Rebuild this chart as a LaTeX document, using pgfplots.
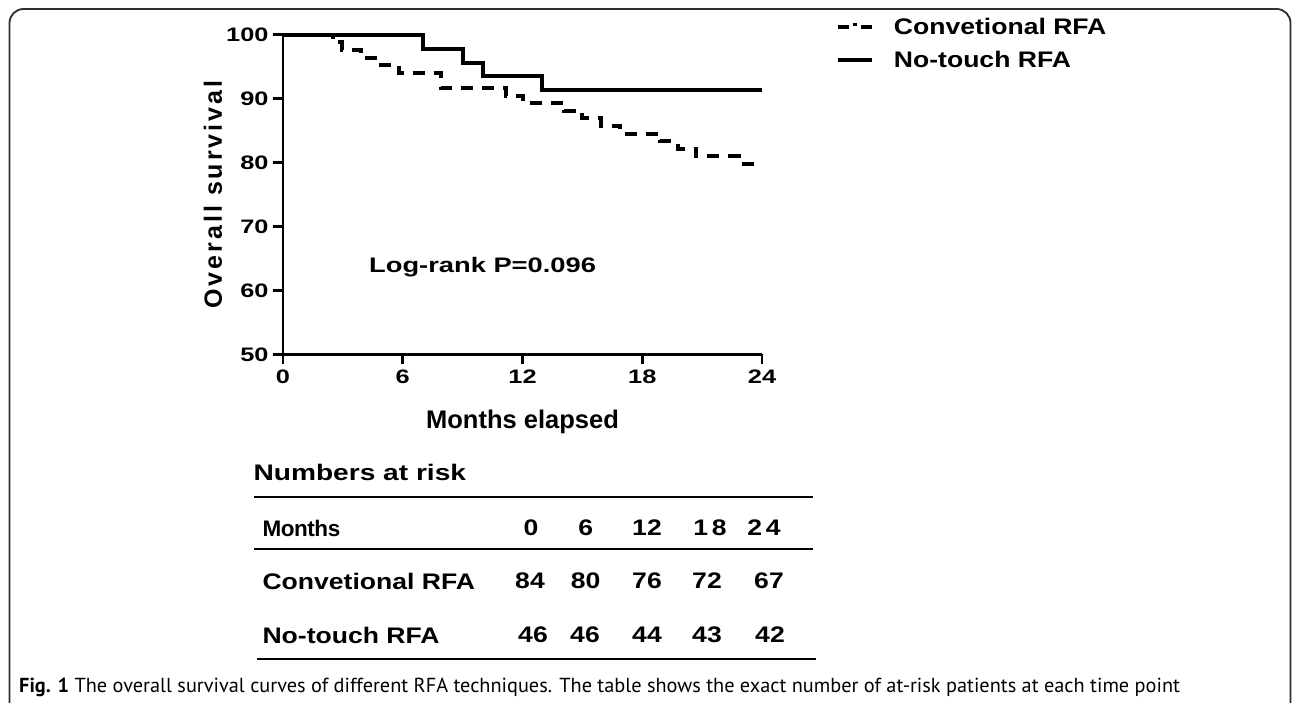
\documentclass[border=0pt]{standalone}
\usepackage{fontspec}
\usepackage{pgfplots}
\pgfplotsset{compat=1.18}
\setmainfont{Liberation Sans}
\newfontfamily\tickf[FakeStretch=1.3]{Liberation Sans}
\newfontfamily\tabf[FakeStretch=1.18]{Liberation Sans}
\newfontfamily\headf[FakeStretch=1.25]{Liberation Sans}
\newfontfamily\monf[FakeStretch=1.0,LetterSpace=-2]{Liberation Sans}
\newfontfamily\labf{Liberation Sans}
\newfontfamily\spacedf[LetterSpace=12]{Liberation Sans}
\newfontfamily\capf{PT Sans}
\definecolor{framec}{HTML}{2E2E2E}

\begin{document}
\begin{tikzpicture}[x=1pt,y=1pt]
\useasboundingbox (0,0) rectangle (1292,702);
% figure frame
\draw[framec, line width=1.8pt, rounded corners=14pt] (9.5,-20) -- (9.5,693) -- (1290.5,693) -- (1290.5,-20);

\begin{axis}[
  at={(283pt,347.7pt)}, anchor=south west,
  scale only axis, width=479pt, height=319.6pt,
  xmin=0, xmax=24, ymin=50, ymax=100,
  xtick={0,6,12,18,24}, ytick={50,60,70,80,90,100},
  axis lines=left, axis line style={-, line width=2.8pt, black},
  tick align=outside, major tick length=10pt,
  tick style={line width=2.8pt, black},
  /pgf/number format/assume math mode=true,
  ticklabel style={font=\tickf\bfseries\fontsize{19.5}{20}\selectfont},
  yticklabel style={xshift=-1pt},
  xticklabel style={yshift=-2pt},
  clip=false,
  legend style={draw=none, fill=none, at={(rel axis cs:1.154,0.9725)}, anchor=west,
    font=\tabf\bfseries\fontsize{22.5}{24}\selectfont, row sep=11pt, inner sep=0pt,
    /tikz/every even column/.append style={column sep=0pt},
    nodes={inner xsep=20pt}},
  legend image code/.code={\draw[#1] (0pt,0pt) -- (34pt,0pt);},
  legend cell align=left,
]
\addplot[const plot, black, line width=4pt, dash pattern=on 12pt off 9pt,
  legend image code/.code={
    \draw[black, line width=3.5pt] (0pt,0pt) -- (11pt,0pt);
    \draw[black, line width=3pt] (15pt,2.5pt) -- (19pt,2.5pt);
    \draw[black, line width=3.5pt] (23pt,0pt) -- (34pt,0pt);}] coordinates {
 (0,100) (2.5,98.81) (2.95,97.62) (3.9,96.43) (4.9,95.24) (5.8,94.05)
 (7.9,91.67) (11.15,90.48) (12.0,89.29) (14.1,88.10) (15.0,86.90)
 (15.95,85.71) (16.9,84.52) (18.9,83.33) (19.8,82.14) (20.7,80.95)
 (22.85,79.76) (24,79.76)};
\addlegendentry{Convetional RFA}
\addplot[const plot, black, line width=4pt] coordinates {
 (0,100) (7,97.83) (9,95.65) (10,93.48) (13,91.30) (24,91.30)};
\addlegendentry{No-touch RFA}
\node[font=\tickf\bfseries\fontsize{21}{22}\selectfont] at (axis cs:10,63.7) {Log-rank P=0.096};
\end{axis}

% axis titles
\node[font=\labf\bfseries\fontsize{25.5}{26}\selectfont] at (522.5,280) {Months elapsed};
\node[rotate=90, font=\spacedf\bfseries\fontsize{25}{26}\selectfont] at (213,507.5) {Overall survival};

% numbers at risk table
\node[anchor=west, font=\headf\bfseries\fontsize{22.5}{24}\selectfont] at (250,230) {Numbers at risk};
\draw[line width=2.8pt] (254,205) -- (813,205);
\draw[line width=2.8pt] (254,153) -- (813,153);
\draw[line width=2.8pt] (257,43) -- (816,43);
\node[anchor=west, font=\monf\bfseries\fontsize{22.5}{24}\selectfont] at (259,174) {Months};
\node[anchor=west, font=\tabf\bfseries\fontsize{22.5}{24}\selectfont] at (259,121) {Convetional RFA};
\node[anchor=west, font=\tabf\bfseries\fontsize{22.5}{24}\selectfont] at (259,67) {No-touch RFA};
\begin{scope}[font=\tabf\bfseries\fontsize{22.5}{24}\selectfont]
\node at (531,174) {0}; \node at (585.7,174) {6}; \node at (647,174) {12};
\node at (710,174) {1\,8}; \node at (764,174) {2\,4};
\node at (530,121) {84}; \node at (585.7,121) {80}; \node at (647,121) {76};
\node at (707,121) {72}; \node at (769,121) {67};
\node at (533,67) {46}; \node at (585,67) {46}; \node at (647,67) {44};
\node at (707,67) {43}; \node at (770,67) {42};
\end{scope}

% caption
\node[anchor=west, font=\capf\fontsize{20.3}{22}\selectfont, inner sep=0pt] at (19,15) {\textbf{Fig. 1} The overall survival curves of different RFA techniques. The table shows the exact number of at-risk patients at each time point};
\end{tikzpicture}
\end{document}
